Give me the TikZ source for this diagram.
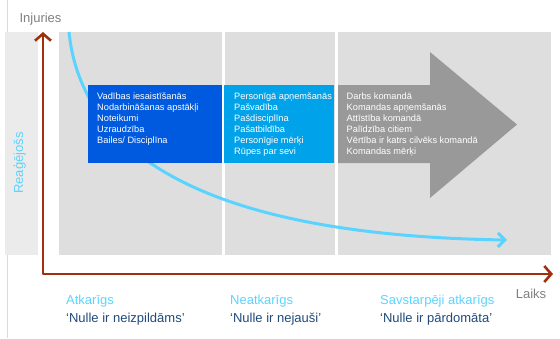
\documentclass[tikz,border=0pt]{standalone}
\usepackage{fontspec}
\setmainfont{Liberation Sans}
\usetikzlibrary{arrows.meta}
\definecolor{panelgray}{HTML}{DEDEDE}
\definecolor{bandgray}{HTML}{EBEBEB}
\definecolor{edgegray}{HTML}{D9D9D9}
\definecolor{leadblue}{HTML}{005AE0}
\definecolor{selfblue}{HTML}{00A2EA}
\definecolor{teamgray}{HTML}{999999}
\definecolor{axisred}{HTML}{A0300C}
\definecolor{reactcyan}{HTML}{5AD4FF}
\definecolor{quotenavy}{HTML}{1F4A7A}
\definecolor{axisgray}{HTML}{7F7F7F}

\begin{document}
\begin{tikzpicture}[x=1pt, y=-1pt,
    panel/.style = {fill=panelgray},
    box/.style = {anchor=north west, inner sep=0pt, minimum height=78},
    boxtext/.style = {anchor=north west, inner sep=0pt, align=left, text=white, font=\fontsize{9.25}{11}\selectfont},
    stage/.style = {anchor=north west, inner sep=0pt, align=left, font=\fontsize{13}{18}\selectfont},
    axislbl/.style = {text=axisgray, inner sep=0pt, font=\fontsize{13}{15}\selectfont},
    axis/.style = {draw=axisred, line width=2.6pt, line join=round, {Straight Barb[length=7pt,width=16pt]}-{Straight Barb[length=7pt,width=16pt]}},
    riskline/.style = {draw=reactcyan, line width=3pt, -{Straight Barb[length=7pt,width=14pt]}}]
        \useasboundingbox (0,0) rectangle (560,338);

        % background
        \draw[edgegray, line width=1pt] (7,0) -- (7,338);
        \fill[bandgray] (5,32) rectangle (38,255);
        \fill[panel] (59,32) rectangle (222,255);
        \fill[panel] (225,32) rectangle (335,255);
        \fill[panel] (338,32) rectangle (551,255);

        \node[axislbl, text=reactcyan, rotate=90] (react) at (19.5,163) {Reaģējošs};

        % curve
        \coordinate (c0) at (69,32);
        \coordinate (c1) at (507,240);
        \draw[riskline] (c0) .. controls (80,140) and (180,235) .. (c1);

        % boxes
        \node[box, fill=leadblue, minimum width=134] (b1) at (88,85) {};
        \node[box, fill=selfblue, minimum width=109.5] (b2) at (224,85) {};
        \fill[teamgray] (338,85) -- (430,85) -- (430,52) -- (517,124.5) -- (430,198) -- (430,163) -- (338,163) -- cycle;

        \node[boxtext] (t1) at (97,93) {Vadības iesaistīšanās\\Nodarbināšanas apstākļi\\Noteikumi\\Uzraudzība\\Bailes/ Disciplīna};
        \node[boxtext] (t2) at (234,93) {Personīgā apņemšanās\\Pašvadība\\Pašdisciplīna\\Pašatbildība\\Personīgie mērķi\\Rūpes par sevi};
        \node[boxtext] (t3) at (346.5,93) {Darbs komandā\\Komandas apņemšanās\\Attīstība komandā\\Palīdzība citiem\\Vērtība ir katrs cilvēks komandā\\Komandas mērķi};

        % axes
        \coordinate (ytop) at (43,32);
        \coordinate (xend) at (553,274);
        \draw[axis] (ytop) |- (xend);
        \node[axislbl] (inj) at (40.5,19.5) {Injuries};
        \node[axislbl] (time) at (531,294) {Laiks};

        % stages
        \node[stage] (s1) at (66,295) {\textcolor{reactcyan}{Atkarīgs}\\\textcolor{quotenavy}{‘Nulle ir neizpildāms’}};
        \node[stage] (s2) at (230,295) {\textcolor{reactcyan}{Neatkarīgs}\\\textcolor{quotenavy}{‘Nulle ir nejauši’}};
        \node[stage] (s3) at (380,295) {\textcolor{reactcyan}{Savstarpēji atkarīgs}\\\textcolor{quotenavy}{‘Nulle ir pārdomāta’}};

    \end{tikzpicture}
\end{document}
